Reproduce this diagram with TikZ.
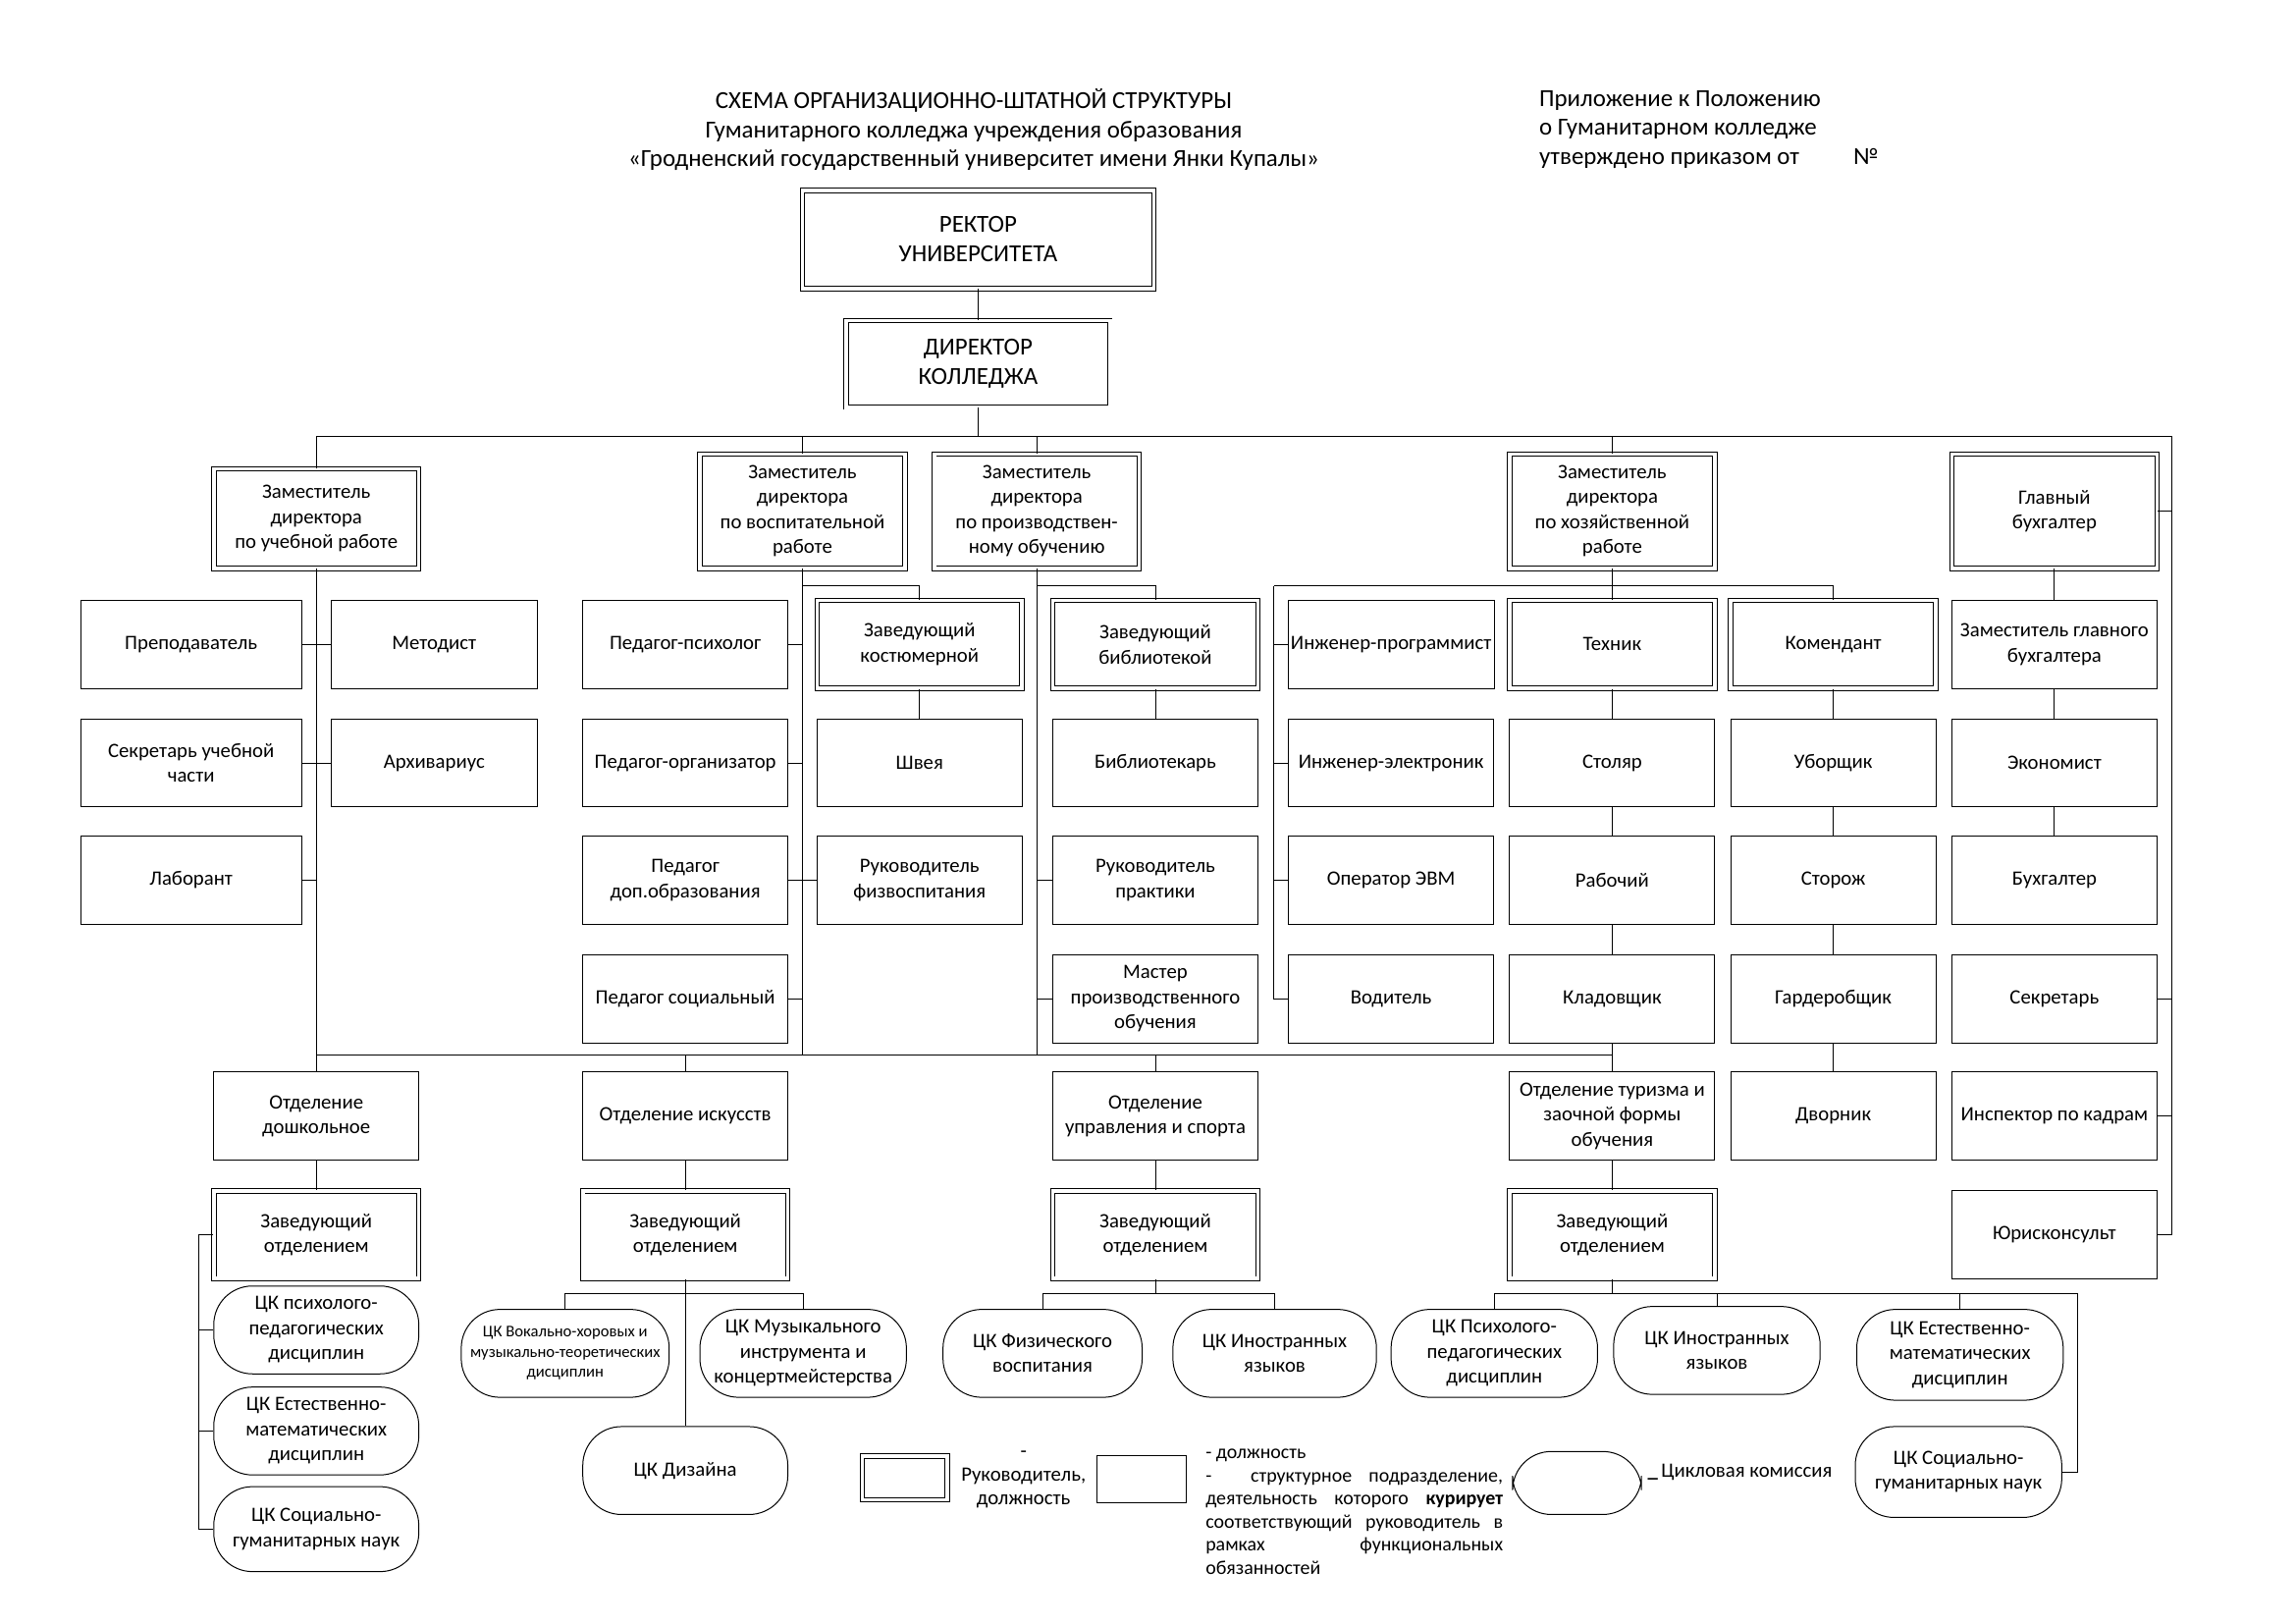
\documentclass[tikz,border=0pt]{standalone}
\usepackage{fontspec}
\setmainfont{Carlito}
\usetikzlibrary{calc}
\newcommand{\bx}[7]{\node[#6, minimum width={(#4-#2)*0.18941mm}, minimum height={(#5-#3)*0.18941mm}] (#1) at ({(#2+#4)/2},{(#3+#5)/2}) {#7};}
\begin{document}
\begin{tikzpicture}[x=0.18941mm, y=-0.18941mm,
  every node/.style={inner sep=1pt, align=center, font=\fontsize{7.5}{9.2}\selectfont},
  pbox/.style={draw, line width=0.36pt},
  dbox/.style={draw, line width=0.34pt, double, double distance=1.3pt},
  ck/.style={draw, line width=0.36pt, rounded corners=5mm},
  ln/.style={line width=0.34pt}]
\fill[white] (0,0) rectangle (1568,1108.7);
\useasboundingbox (0,0) rectangle (1568,1108.7);

% header
\node[font=\fontsize{9}{10.8}\selectfont] (title) at (665,88.5) {СХЕМА ОРГАНИЗАЦИОННО-ШТАТНОЙ СТРУКТУРЫ\\Гуманитарного колледжа учреждения образования\\«Гродненский государственный университет имени Янки Купалы»};
\node[font=\fontsize{9}{10.8}\selectfont, align=left, anchor=west] (appx) at (1049,88.5) {Приложение к Положению\\о Гуманитарном колледже\\утверждено приказом от\hspace{7mm}№};

% top
\bx{rect}{548}{130}{788}{197}{dbox, font=\fontsize{9}{10.8}\selectfont}{РЕКТОР\\УНИВЕРСИТЕТА}
\bx{dir}{578}{219}{758}{278}{dbox, font=\fontsize{9}{10.8}\selectfont}{ДИРЕКТОР\\КОЛЛЕДЖА}

% deputies
\bx{zu}{146}{320}{286}{388}{dbox}{Заместитель\\директора\\по учебной работе}
\bx{zv}{478}{310}{618}{388}{dbox}{Заместитель\\директора\\по воспитательной\\работе}
\bx{zp}{638}{310}{778}{388}{dbox}{Заместитель\\директора\\по производствен-\\ному обучению}
\bx{zh}{1031}{310}{1171}{388}{dbox}{Заместитель\\директора\\по хозяйственной\\работе}
\bx{gb}{1333}{310}{1473}{388}{dbox}{Главный\\бухгалтер}

% column 1, 2
\bx{prep}{55}{410}{206}{470}{pbox}{Преподаватель}
\bx{sek}{55}{491}{206}{551}{pbox}{Секретарь учебной\\части}
\bx{lab}{55}{571}{206}{631}{pbox}{Лаборант}
\bx{met}{226}{410}{367}{470}{pbox}{Методист}
\bx{arh}{226}{491}{367}{551}{pbox}{Архивариус}
% column 3
\bx{pps}{398}{410}{538}{470}{pbox}{Педагог-психолог}
\bx{por}{398}{491}{538}{551}{pbox}{Педагог-организатор}
\bx{pdo}{398}{571}{538}{631}{pbox}{Педагог\\доп.образования}
\bx{psoc}{398}{652}{538}{712}{pbox}{Педагог социальный}
% column 4
\bx{zk}{558}{410}{698}{470}{dbox}{Заведующий\\костюмерной}
\bx{shv}{558}{491}{698}{551}{pbox}{Швея}
\bx{rfv}{558}{571}{698}{631}{pbox}{Руководитель\\физвоспитания}
% column 5
\bx{zb}{719}{410}{859}{470}{dbox}{Заведующий\\библиотекой}
\bx{bib}{719}{491}{859}{551}{pbox}{Библиотекарь}
\bx{rpr}{719}{571}{859}{631}{pbox}{Руководитель\\практики}
\bx{mpo}{719}{652}{859}{712}{pbox}{Мастер\\производственного\\обучения}
% column 6
\bx{ipr}{880}{410}{1020}{470}{pbox}{Инженер-программист}
\bx{iel}{880}{491}{1020}{551}{pbox}{Инженер-электроник}
\bx{oevm}{880}{571}{1020}{631}{pbox}{Оператор ЭВМ}
\bx{vod}{880}{652}{1020}{712}{pbox}{Водитель}
% column 7
\bx{teh}{1031}{410}{1171}{470}{dbox}{Техник}
\bx{stol}{1031}{491}{1171}{551}{pbox}{Столяр}
\bx{rab}{1031}{571}{1171}{631}{pbox}{Рабочий}
\bx{klad}{1031}{652}{1171}{712}{pbox}{Кладовщик}
% column 8
\bx{kom}{1182}{410}{1322}{470}{dbox}{Комендант}
\bx{ubor}{1182}{491}{1322}{551}{pbox}{Уборщик}
\bx{stor}{1182}{571}{1322}{631}{pbox}{Сторож}
\bx{gard}{1182}{652}{1322}{712}{pbox}{Гардеробщик}
\bx{dvor}{1182}{732}{1322}{792}{pbox}{Дворник}
% column 9
\bx{zgb}{1333}{410}{1473}{470}{pbox}{Заместитель главного\\бухгалтера}
\bx{ekon}{1333}{491}{1473}{551}{pbox}{Экономист}
\bx{buh}{1333}{571}{1473}{631}{pbox}{Бухгалтер}
\bx{sekr}{1333}{652}{1473}{712}{pbox}{Секретарь}
\bx{insp}{1333}{732}{1473}{792}{pbox}{Инспектор по кадрам}
\bx{yur}{1333}{813}{1473}{873}{pbox}{Юрисконсульт}

% departments
\bx{od}{146}{732}{286}{792}{pbox}{Отделение\\дошкольное}
\bx{oi}{398}{732}{538}{792}{pbox}{Отделение искусств}
\bx{ou}{719}{732}{859}{792}{pbox}{Отделение\\управления и спорта}
\bx{ot}{1031}{732}{1171}{792}{pbox}{Отделение туризма и\\заочной формы\\обучения}
\bx{zo1}{146}{813}{286}{873}{dbox}{Заведующий\\отделением}
\bx{zo2}{398}{813}{538}{873}{dbox}{Заведующий\\отделением}
\bx{zo3}{719}{813}{859}{873}{dbox}{Заведующий\\отделением}
\bx{zo4}{1031}{813}{1171}{873}{dbox}{Заведующий\\отделением}

% cycle commissions
\bx{cp1}{146}{878}{286}{938}{ck}{ЦК психолого-\\педагогических\\дисциплин}
\bx{ce1}{146}{947}{286}{1007}{ck}{ЦК Естественно-\\математических\\дисциплин}
\bx{cs1}{146}{1015}{286}{1073}{ck}{ЦК Социально-\\гуманитарных наук}
\bx{cv}{315}{894}{457}{954}{ck, font=\fontsize{6}{7.4}\selectfont}{ЦК Вокально-хоровых и\\музыкально-теоретических\\дисциплин}
\bx{cm}{478}{894}{619}{954}{ck}{ЦК Музыкального\\инструмента и\\концертмейстерства}
\bx{cd}{398}{974}{538}{1034}{ck}{ЦК Дизайна}
\bx{cf}{644}{894}{780}{954}{ck}{ЦК Физического\\воспитания}
\bx{ci1}{801}{894}{940}{954}{ck}{ЦК Иностранных\\языков}
\bx{cp2}{950}{894}{1091}{954}{ck}{ЦК Психолого-\\педагогических\\дисциплин}
\bx{ci2}{1102}{892}{1243}{952}{ck}{ЦК Иностранных\\языков}
\bx{ce2}{1268}{894}{1409}{956}{ck}{ЦК Естественно-\\математических\\дисциплин}
\bx{cs2}{1267}{974}{1408}{1036}{ck}{ЦК Социально-\\гуманитарных наук}

% legend
\bx{lg1}{589}{994}{647}{1024}{dbox}{}
\node[font=\fontsize{7.5}{8.6}\selectfont] (lg1t) at (699,1010) {-\\Руководитель,\\должность};
\bx{lg2}{749}{994}{810}{1026}{pbox}{}
\node[anchor=north west, align=left, inner sep=0pt, font=\fontsize{7.2}{8.5}\selectfont] (lg2t) at (823,989) {- должность\\\makebox[38.45mm][s]{-\quad\quad структурное подразделение,}\\\makebox[38.45mm][s]{деятельность которого \textbf{курирует}}\\\makebox[38.45mm][s]{соответствующий руководитель в}\\\makebox[38.45mm][s]{рамках функциональных}\\обязанностей};
\bx{lg3}{1033}{991}{1121}{1034}{ck}{}
\node[anchor=west, font=\fontsize{7.5}{9}\selectfont] (lg3t) at (1123,1005) {{\bfseries\textunderscore}\,Цикловая комиссия};

% connectors: top
\coordinate (busL) at (216,298);
\coordinate (busR) at (1483,298);
\draw[ln] (rect.south) -- (dir.north);
\draw[ln] (dir.south) -- (dir.south |- busL);
\draw[ln] (zu.north) -- (busL) -- (busR) -- (busR |- yur.east) -- (yur.east);
\draw[ln] (zv.north) -- (zv.north |- busL);
\draw[ln] (zp.north) -- (zp.north |- busL);
\draw[ln] (zh.north) -- (zh.north |- busL);
\draw[ln] (gb.east) -- (gb.east -| busR);
\draw[ln] (sekr.east) -- (sekr.east -| busR);
\draw[ln] (insp.east) -- (insp.east -| busR);

% учебная
\draw[ln] (zu.south) -- (od.north);
\draw[ln] (prep.east) -- (met.west);
\draw[ln] (sek.east) -- (arh.west);
\draw[ln] (lab.east) -- (lab.east -| zu.south);

% lower bus
\coordinate (lbL) at (216,720);
\coordinate (lbR) at (1101,720);
\draw[ln] (lbL) -- (lbR);
\draw[ln] (zv.south) -- (zv.south |- lbL);
\draw[ln] (zp.south) -- (zp.south |- lbL);
\draw[ln] (oi.north) -- (oi.north |- lbL);
\draw[ln] (ou.north) -- (ou.north |- lbL);
\draw[ln] (klad.south) -- (ot.north);

% воспитательная
\coordinate (zvb) at (548,400);
\draw[ln] (zvb) -| (zk.north);
\draw[ln] (pps.east) -- (pps.east -| zvb);
\draw[ln] (por.east) -- (por.east -| zvb);
\draw[ln] (pdo.east) -- (rfv.west);
\draw[ln] (psoc.east) -- (psoc.east -| zvb);
\draw[ln] (zk.south) -- (shv.north);

% производственное
\coordinate (zpb) at (708,400);
\draw[ln] (zpb) -| (zb.north);
\draw[ln] (zb.south) -- (bib.north);
\draw[ln] (rpr.west) -- (rpr.west -| zpb);
\draw[ln] (mpo.west) -- (mpo.west -| zpb);

% хозяйственная
\coordinate (hb) at (870,400);
\draw[ln] (zh.south) -- (teh.north);
\draw[ln] (hb) -| (kom.north);
\draw[ln] (hb) |- (vod.west);
\draw[ln] (ipr.west) -- (ipr.west -| hb);
\draw[ln] (iel.west) -- (iel.west -| hb);
\draw[ln] (oevm.west) -- (oevm.west -| hb);
\draw[ln] (teh.south) -- (stol.north);
\draw[ln] (stol.south) -- (rab.north);
\draw[ln] (rab.south) -- (klad.north);
\draw[ln] (kom.south) -- (ubor.north);
\draw[ln] (ubor.south) -- (stor.north);
\draw[ln] (stor.south) -- (gard.north);
\draw[ln] (gard.south) -- (dvor.north);
\draw[ln] (gb.south) -- (zgb.north);
\draw[ln] (zgb.south) -- (ekon.north);
\draw[ln] (ekon.south) -- (buh.north);

% departments to heads
\draw[ln] (od.south) -- (zo1.north);
\draw[ln] (oi.south) -- (zo2.north);
\draw[ln] (ou.south) -- (zo3.north);
\draw[ln] (ot.south) -- (zo4.north);

% commissions
\coordinate (jl) at (136,843);
\draw[ln] (zo1.west) -- (jl) |- (cs1.west);
\draw[ln] (cp1.west) -- (cp1.west -| jl);
\draw[ln] (ce1.west) -- (ce1.west -| jl);
\coordinate (ja) at (468,883);
\draw[ln] (zo2.south) -- (cd.north);
\draw[ln] (cv.north) |- (ja) -| (cm.north);
\coordinate (ju) at (789,883);
\draw[ln] (zo3.south) -- (ju);
\draw[ln] (cf.north) |- (ju) -| (ci1.north);
\coordinate (jt) at (1101,883);
\coordinate (jtr) at (1419,883);
\draw[ln] (zo4.south) -- (jt);
\draw[ln] (cp2.north) |- (jtr) |- (cs2.east);
\draw[ln] (ci2.north) -- (ci2.north |- jt);
\draw[ln] (ce2.north) -- (ce2.north |- jt);
\end{tikzpicture}
\end{document}
